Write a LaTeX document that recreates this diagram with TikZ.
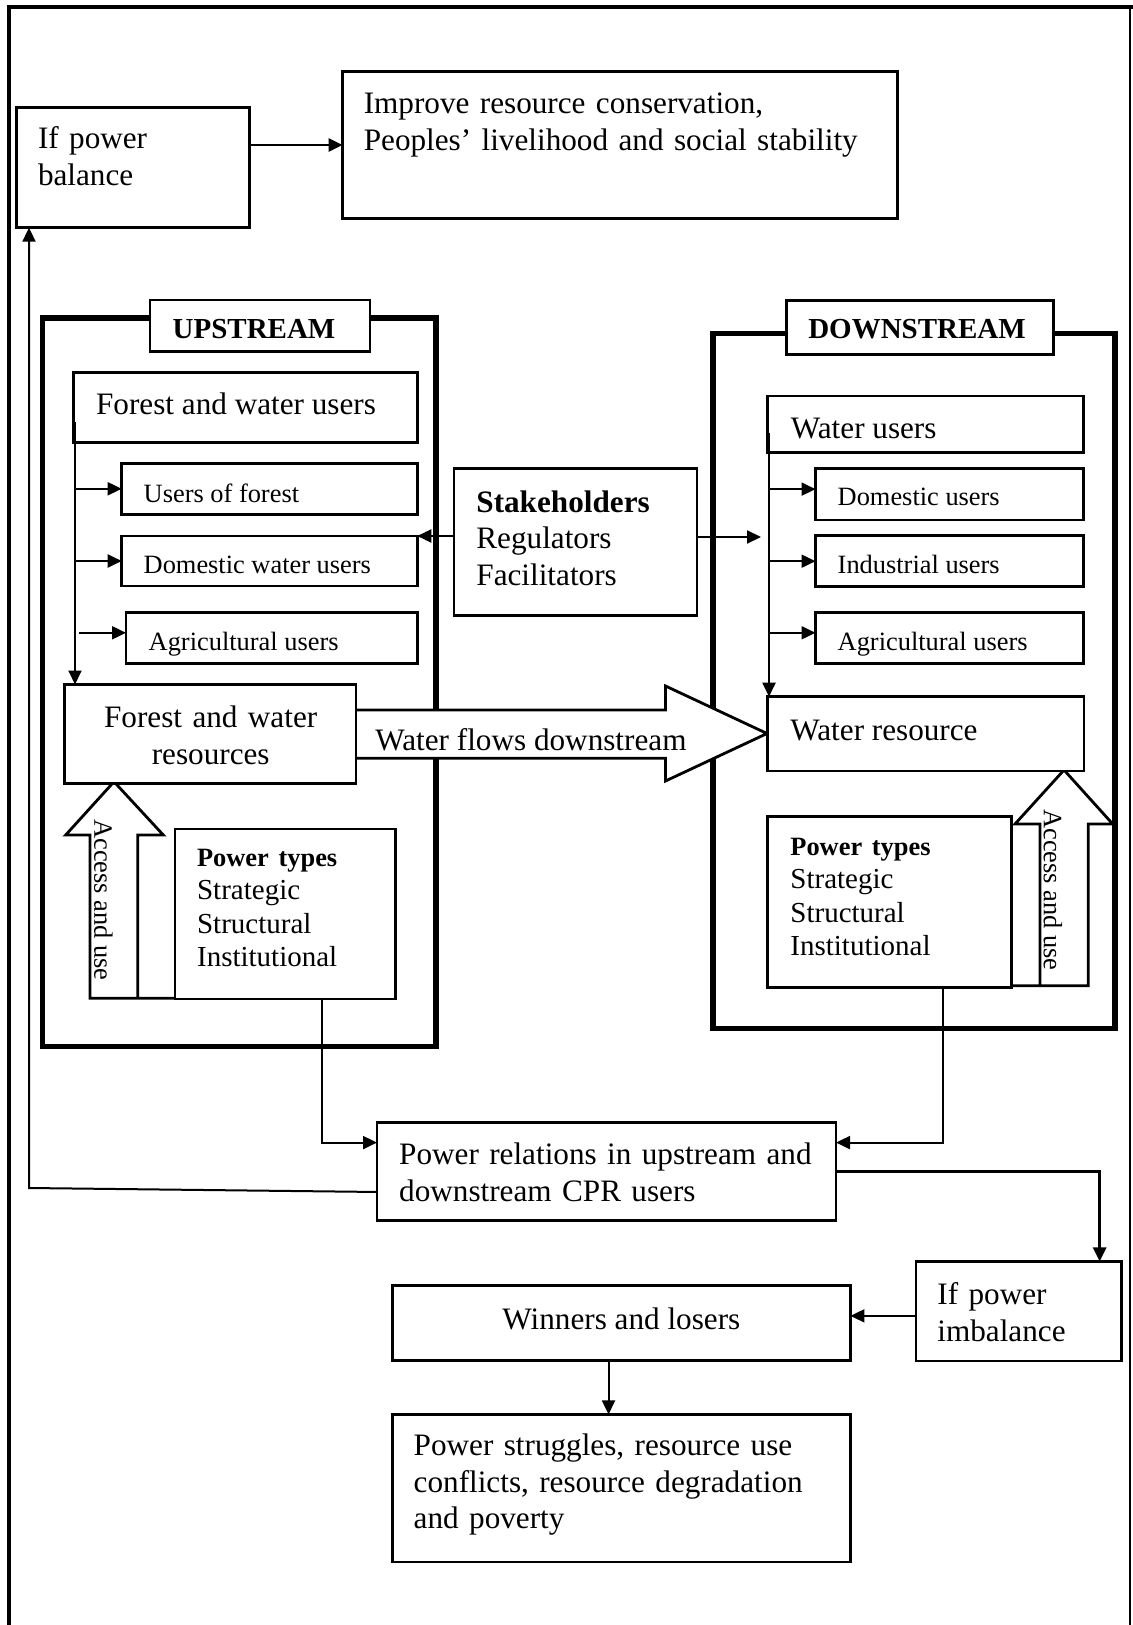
\documentclass[tikz,border=0pt]{standalone}
\usepackage{fontspec}
\setmainfont{Liberation Serif}
\usetikzlibrary{arrows.meta,calc,fit}
\newcommand\mainf{\fontsize{15.6pt}{18.2pt}\selectfont}
\newcommand\subf{\fontsize{13.2pt}{16pt}\selectfont}
\newcommand\ptf{\fontsize{14.5pt}{16.7pt}\selectfont}
\begin{document}
\begin{tikzpicture}[x=0.5pt,y=-0.5pt,
 box/.style={draw,line width=1.4pt,inner sep=0pt,outer sep=0pt,fill=white},
 frame/.style={draw,line width=2.6pt},
 conn/.style={line width=1pt},
 arr/.style={conn,-{Triangle[length=7pt,width=6.5pt]}},
 blk/.style={draw,line width=1.4pt,fill=white,line join=miter},
 lbl/.style={inner sep=0pt,anchor=base west,font=\mainf,yshift=-1.1pt},
 mlbl/.style={lbl,text width=#1,align=left},
 ttl/.style={inner sep=0pt,anchor=base,font=\ptf\bfseries},
]
\useasboundingbox (0,0) rectangle (1133,1625);

% outer frame
\draw[line width=2pt] (8.7,1630) -- (8.7,6.7) -- (1135,6.7);
\draw[line width=1pt] (1130,6.7) -- (1130,1630);

% top row
\node[box,fit={(16.6,107.3) (249.3,227.7)}] (bal) {};
\node[mlbl=200pt] (balT) at (37.6,146.7) {If power\\balance};
\node[box,fit={(342.5,71.3) (897.4,218.3)}] (imp) {};
\node[mlbl=270pt] (impT) at (363.4,111.7) {Improve resource conservation,\\Peoples’ livelihood and social stability};
\draw[arr,line width=1.4pt] ([yshift=11.25pt]bal.east) coordinate (be) -- (be -| imp.west);

% frames
\draw[frame] (42.7,318) rectangle (436,1046.7);
\draw[frame] (713,333.3) rectangle (1115,1028.3);

% water flows block arrow
\draw[blk] (356,710) -- (665.5,710) -- (665.5,686) -- (767,733.5) -- (665.5,781) -- (665.5,758.3) -- (356,758.3);
\node[lbl] (wfT) at (375,748.5) {Water flows downstream};

% access block arrows
\draw[blk] (175,998.3) -- (90,998.3) -- (90,835) -- (65.7,835) -- (114,781.7) -- (163.3,835) -- (137.7,835) -- (137.7,998.3);
\draw[blk] (1011.7,985.7) -- (1088.3,985.7) -- (1088.3,824) -- (1112.7,824) -- (1064,770) -- (1015,824) -- (1040,824) -- (1040,985.7);
\node[inner sep=0pt,font=\subf,rotate=-90] (uaT) at (103.5,900) {Access and use};
\node[inner sep=0pt,font=\subf,rotate=-90] (daT) at (1053,890) {Access and use};

% upstream
\node[box,fit={(150,300) (370,351.7)}] (up) {};
\node[ttl] (upT) at (254,339) {UPSTREAM};
\node[box,fit={(73.3,372.3) (417.3,442.3)}] (fwu) {};
\node[lbl] (fwuT) at (95.7,412.5) {Forest and water users};
\node[box,fit={(121.7,463.3) (417.3,514.3)}] (uf) {};
\node[lbl,font=\subf] (ufT) at (143.3,500) {Users of forest};
\node[box,fit={(121.7,536) (417.3,586)}] (dwu) {};
\node[lbl,font=\subf] (dwuT) at (143.3,571.7) {Domestic water users};
\node[box,fit={(126,612.3) (417.3,663.3)}] (au) {};
\node[lbl,font=\subf] (auT) at (148.3,648.3) {Agricultural users};
\node[box,fit={(64.3,684.5) (356,783.3)}] (fwr) {};
\node[mlbl=250pt,anchor=base,align=center] (fwrT) at (210.7,725.7) {Forest and water\\resources};
\draw[arr] ([xshift=0.85pt,yshift=10pt]fwu.south west) coordinate (uv) -- (uv |- fwr.north);
\draw[arr] (uv |- uf.west) -- (uf.west);
\draw[arr] (uv |- dwu.west) -- (dwu.west);
\draw[arr] ([xshift=2pt,yshift=2.5pt]uv |- au.west) -- ([yshift=2.5pt]au.west);
\node[box,fit={(175,829) (395.7,999)}] (upt) {};
\node[mlbl=150pt,font=\ptf] (uptT) at (196.7,864) {{\subf\bfseries Power types}\\Strategic\\Structural\\Institutional};

% stakeholders
\node[box,fit={(454,468.3) (697,615.7)}] (sh) {};
\node[mlbl=200pt] (shT) at (476,510) {\textbf{Stakeholders}\\Regulators\\Facilitators};
\draw[arr] (sh.west |- dwu.north east) -- (dwu.north east);
\coordinate (shR) at (761,537);
\draw[arr] (sh.east |- shR) -- (shR);

% downstream
\node[box,fit={(786.8,300.6) (1053.2,354.5)}] (down) {};
\node[ttl] (downT) at (917,339) {DOWNSTREAM};
\node[box,fit={(767.7,396) (1083.6,452.7)}] (wu) {};
\node[lbl] (wuT) at (790.5,436) {Water users};
\node[box,fit={(815.5,468.3) (1083.6,520)}] (du) {};
\node[lbl,font=\subf] (duT) at (837.3,503) {Domestic users};
\node[box,fit={(815.5,535.7) (1083.6,586.7)}] (iu) {};
\node[lbl,font=\subf] (iuT) at (837.3,571.7) {Industrial users};
\node[box,fit={(815.5,612.3) (1083.6,663.3)}] (dau) {};
\node[lbl,font=\subf] (dauT) at (837.3,648.3) {Agricultural users};
\node[box,fit={(767.7,696.7) (1084,771)}] (wr) {};
\node[lbl] (wrT) at (790,738.3) {Water resource};
\draw[arr] ([xshift=0.65pt,yshift=10pt]wu.south west) coordinate (dv) -- (dv |- wr.north);
\draw[arr] ([yshift=2.5pt]dv |- du.west) -- ([yshift=2.5pt]du.west);
\draw[arr] (dv |- iu.west) -- (iu.west);
\draw[arr] ([yshift=2.5pt]dv |- dau.west) -- ([yshift=2.5pt]dau.west);
\node[box,fit={(767.7,816.7) (1011.7,987.3)}] (dpt) {};
\node[mlbl=150pt,font=\ptf] (dptT) at (790,853) {{\subf\bfseries Power types}\\Strategic\\Structural\\Institutional};

% bottom part
\node[box,fit={(377,1122.4) (836,1220.8)}] (pr) {};
\node[mlbl=250pt] (prT) at (398.8,1162.7) {Power relations in upstream and\\downstream CPR users};
\draw[arr] ($(upt.south west)!0.667!(upt.south east)$) |- ($(pr.north west)!0.205!(pr.south west)$);
\draw[arr] ($(dpt.south west)!0.718!(dpt.south east)$) |- ($(pr.north east)!0.205!(pr.south east)$);
\coordinate (fb) at (29,1188);
\draw[arr] ($(pr.north west)!0.707!(pr.south west)$) -- (fb) -- (fb |- bal.south);

\node[box,fit={(916,1261.4) (1121.4,1360.9)}] (imb) {};
\node[mlbl=100pt] (imbT) at (937,1302.5) {If power\\imbalance};
\draw[arr,line width=1.4pt] (pr.east) -| ($(imb.north west)!0.894!(imb.north east)$);

\node[box,fit={(392.3,1285.8) (850.4,1360.8)}] (win) {};
\node[lbl,anchor=base] (winT) at (621.4,1326.8) {Winners and losers};
\draw[arr] ([yshift=-2.35pt]imb.west) coordinate (iw) -- (iw -| win.east);

\node[box,fit={(392.3,1414.4) (850.4,1562)}] (ps) {};
\node[mlbl=250pt] (psT) at (413.3,1453.7) {Power struggles, resource use\\conflicts, resource degradation\\and poverty};
\draw[arr] ($(win.south west)!0.472!(win.south east)$) -- ($(ps.north west)!0.472!(ps.north east)$);
\end{tikzpicture}
\end{document}
